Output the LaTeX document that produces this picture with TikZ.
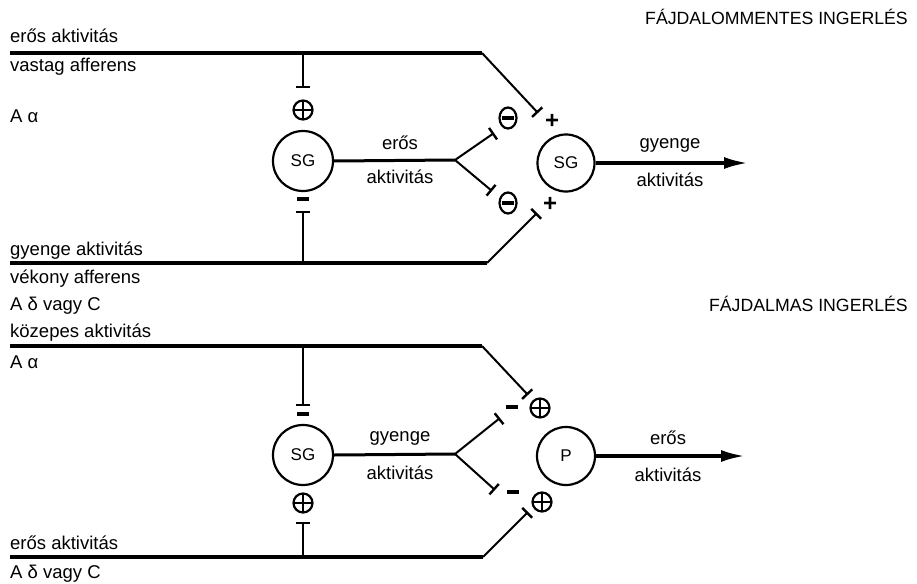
\documentclass[tikz,border=0pt]{standalone}
\usepackage{fontspec}
\setmainfont{Liberation Sans}
\usetikzlibrary{arrows.meta,shapes.geometric}
\begin{document}
\begin{tikzpicture}[x=1pt,y=-1pt,
  every node/.style={font=\fontsize{18.5}{20}\selectfont, inner sep=0pt},
  lbl/.style={anchor=base west},
  ttl/.style={anchor=base east, font=\fontsize{17.7}{20}\selectfont},
  midlbl/.style={anchor=center},
  neuron/.style={circle, draw, line width=2.2pt, minimum size=#1, font=\fontsize{17}{20}\selectfont},
  afferent/.style={line width=3.2pt},
  axon/.style={line width=3pt},
  branch/.style={line width=2pt},
  inhib/.style={-{Bar[width=14pt,line width=2.4pt]}},
  outarrow/.style={line width=3.4pt,-{Latex[length=24pt,width=12pt]}},
  oplus/.style={circle, draw, line width=2.2pt, minimum size=19pt,
    path picture={\draw[line width=2.4pt]
      (path picture bounding box.north) -- (path picture bounding box.south)
      (path picture bounding box.west) -- (path picture bounding box.east);}},
  ominus/.style={ellipse, draw, line width=2.2pt, minimum width=17pt, minimum height=21pt,
    path picture={\fill ([xshift=2.5pt,yshift=-1.8pt]path picture bounding box.west) rectangle ([xshift=-2.5pt,yshift=1.8pt]path picture bounding box.east);}},
  minusbar/.style={rectangle, fill, minimum width=12pt, minimum height=3.6pt},
  plussign/.style={font=\fontsize{24}{24}\bfseries\selectfont}
]
\useasboundingbox (0,0) rectangle (917,583);

% ---------- titles ----------
\node[ttl] (t1) at (908,25) {FÁJDALOMMENTES INGERLÉS};
\node[ttl] (t2) at (908,311) {FÁJDALMAS INGERLÉS};

% ---------- left labels ----------
\node[lbl] (l1) at (10,43) {erős aktivitás};
\node[lbl] (l2) at (10,72) {vastag afferens};
\node[lbl] (l3) at (10,122) {A α};
\node[lbl] (l4) at (10,255) {gyenge aktivitás};
\node[lbl] (l5) at (10,283) {vékony afferens};
\node[lbl] (l6) at (10,310) {A δ vagy C};
\node[lbl] (l7) at (10,337) {közepes aktivitás};
\node[lbl] (l8) at (10,368) {A α};
\node[lbl] (l9) at (10,549) {erős aktivitás};
\node[lbl] (l10) at (10,578) {A δ vagy C};

% ================= TOP PANEL =================
\node[neuron=60pt] (sg1) at (303,161) {SG};
\node[neuron=57pt] (sg2) at (566,163) {SG};

\coordinate (a1s) at (10,53);
\coordinate (a1j) at (303,53);
\coordinate (a1b) at (482,53);
\coordinate (a1e) at (538,113);
\coordinate (v1e) at (303,88);
\draw[afferent] (a1s) -- (a1b);
\draw[branch,inhib] (a1b) -- (a1e);
\draw[branch,inhib] (a1j) -- (v1e);
\node[oplus] (p1) at (303,110) {};

\coordinate (a2s) at (10,263);
\coordinate (a2j) at (303,263);
\coordinate (a2b) at (487,263);
\coordinate (a2e) at (537,213);
\coordinate (v2e) at (303,211);
\draw[afferent] (a2s) -- (a2b);
\draw[branch,inhib] (a2b) -- (a2e);
\draw[branch,inhib] (a2j) -- (v2e);
\node[minusbar] (m1) at (303,199) {};

\coordinate (f1) at (455,160);
\coordinate (f1u) at (494,133);
\coordinate (f1d) at (492,191);
\draw[axon] (sg1.east) -- (f1);
\draw[branch,inhib] (f1) -- (f1u);
\draw[branch,inhib] (f1) -- (f1d);
\node[ominus] (n1) at (508,118) {};
\node[ominus] (n2) at (508,203) {};
\node[plussign] (s1) at (552,121) {+};
\node[plussign] (s2) at (550,204) {+};

\node[midlbl] (c1) at (400,143) {erős};
\node[midlbl] (c2) at (400,177) {aktivitás};

\coordinate (o1) at (748,163);
\draw[outarrow] (sg2.east) -- (o1);
\node[midlbl] (c3) at (670,145) {gyenge};
\node[midlbl] (c4) at (670,180) {aktivitás};

% ================= BOTTOM PANEL =================
\node[neuron=60pt] (sg3) at (303,455) {SG};
\node[neuron=58pt] (pp) at (566,456) {P};

\coordinate (a3s) at (10,346);
\coordinate (a3j) at (303,346);
\coordinate (a3b) at (482,346);
\coordinate (a3e) at (528,395);
\coordinate (v3e) at (303,406);
\draw[afferent] (a3s) -- (a3b);
\draw[branch,inhib] (a3b) -- (a3e);
\draw[branch,inhib] (a3j) -- (v3e);
\node[minusbar] (m2) at (303,414) {};

\coordinate (a4s) at (10,557);
\coordinate (a4j) at (303,557);
\coordinate (a4b) at (483,557);
\coordinate (a4e) at (528,512);
\coordinate (v4e) at (303,522);
\draw[afferent] (a4s) -- (a4b);
\draw[branch,inhib] (a4b) -- (a4e);
\draw[branch,inhib] (a4j) -- (v4e);
\node[oplus] (p2) at (303,503) {};

\coordinate (f2) at (455,454);
\coordinate (f2u) at (500,418);
\coordinate (f2d) at (495,490);
\draw[axon] (sg3.east) -- (f2);
\draw[branch,inhib] (f2) -- (f2u);
\draw[branch,inhib] (f2) -- (f2d);
\node[minusbar] (m3) at (512,407) {};
\node[minusbar] (m4) at (513,492) {};
\node[oplus] (p3) at (540,408) {};
\node[oplus] (p4) at (542,502) {};

\node[midlbl] (c5) at (400,438) {gyenge};
\node[midlbl] (c6) at (400,473) {aktivitás};

\coordinate (o2) at (745,456);
\draw[outarrow] (pp.east) -- (o2);
\node[midlbl] (c7) at (668,438) {erős};
\node[midlbl] (c8) at (668,475) {aktivitás};
\end{tikzpicture}
\end{document}
